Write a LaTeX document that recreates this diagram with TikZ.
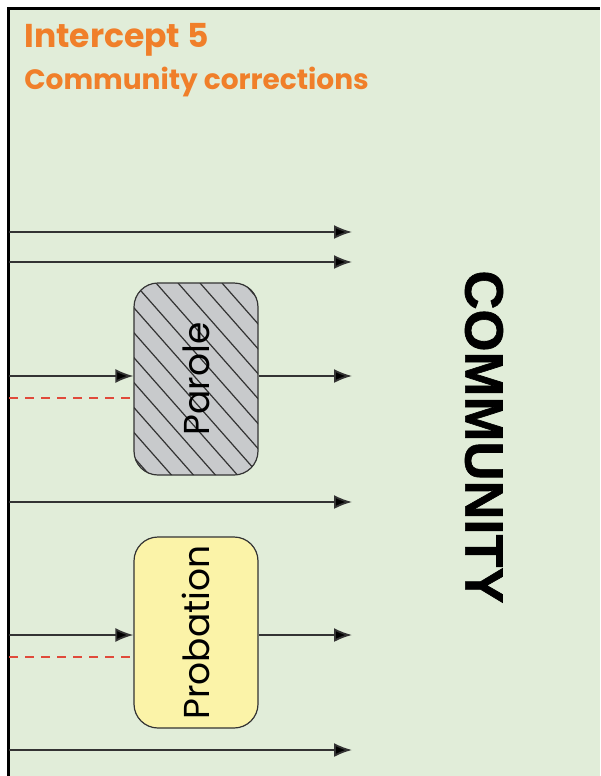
\documentclass[tikz,border=0pt]{standalone}
\usepackage{fontspec}
\setmainfont{Poppins}
\newfontfamily\heavyfont[BoldFeatures={FakeBold=1.2}]{Liberation Sans}
\usetikzlibrary{
    arrows.meta,
    positioning,
}
\definecolor{bggreen}{HTML}{E1EDD9}
\definecolor{titleorange}{HTML}{F07F2A}
\definecolor{hatchgray}{HTML}{C8CACC}
\definecolor{probyellow}{HTML}{FBF3A8}
\definecolor{flowgray}{HTML}{333333}
\definecolor{dashred}{HTML}{E04A3A}
\tikzstyle{block} = [rectangle, draw=flowgray, line width=0.6pt,
    minimum width=62pt, minimum height=96pt, rounded corners=12pt, inner sep=0pt]
\tikzstyle{line} = [draw=flowgray, line width=0.9pt,
    -{Latex[length=9pt,width=7pt,fill=black]}]
\tikzstyle{link} = [draw=dashred, line width=0.6pt, dash pattern=on 4.5pt off 3.5pt]
\tikzstyle{hatched} = [fill=hatchgray, path picture={
    \foreach \k in {-10,...,6}
        \draw[flowgray, line width=0.6pt]
            ([xshift=\k*11pt]path picture bounding box.north west) -- ++(90pt,-102pt);}]

\begin{document}
\begin{tikzpicture}[x=0.5pt, y=-0.5pt]
        \useasboundingbox (0,0) rectangle (600,776);
        % Background and frame
        \fill[bggreen] (8,8) rectangle (600,776);
        \draw[line width=1.5pt] (8,776) -- (8,8) -- (600,8);
        % Place nodes
        \node[anchor=base west, inner sep=0pt, text=titleorange, font=\bfseries\fontsize{16.5}{19}\selectfont]
            (title) at (24,47) {Intercept 5};
        \node[anchor=base west, inner sep=0pt, text=titleorange, font=\bfseries\fontsize{14}{17}\selectfont]
            (subtitle) at (24,89) {Community corrections};
        \node[block, hatched] (parole) at (196,379) {};
        \node[rotate=90, font=\fontsize{18}{20}\selectfont] (parole_txt) at (parole) {Parole};
        \node[block, fill=probyellow, minimum height=95.5pt] (probation) at (196,632.5) {};
        \node[rotate=90, font=\fontsize{18}{20}\selectfont] (probation_txt) at (probation) {Probation};
        \node[rotate=-90, font=\heavyfont\bfseries\fontsize{27}{29}\selectfont]
            (community) at (484,437) {COMMUNITY};
        % Free ends
        \coordinate (a_in) at (9,232);   \coordinate (a_out) at (352,232);
        \coordinate (b_in) at (9,262);   \coordinate (b_out) at (352,262);
        \coordinate (c_in) at (9,376);   \coordinate (c_out) at (352,376);
        \coordinate (d_in) at (9,398);
        \coordinate (e_in) at (9,502);   \coordinate (e_out) at (352,502);
        \coordinate (f_in) at (9,635);   \coordinate (f_out) at (352,635);
        \coordinate (g_in) at (9,657);
        \coordinate (h_in) at (9,750);   \coordinate (h_out) at (352,750);
        % Draw edges
        \path [line] (a_in) -- (a_out);
        \path [line] (b_in) -- (b_out);
        \path [line] (c_in) -- (c_in -| parole.west);
        \path [line] (c_out -| parole.east) -- (c_out);
        \path [link] (d_in) -- (d_in -| parole.west);
        \path [line] (e_in) -- (e_out);
        \path [line] (f_in) -- (f_in -| probation.west);
        \path [line] (f_out -| probation.east) -- (f_out);
        \path [link] (g_in) -- (g_in -| probation.west);
        \path [line] (h_in) -- (h_out);
    \end{tikzpicture}
\end{document}
